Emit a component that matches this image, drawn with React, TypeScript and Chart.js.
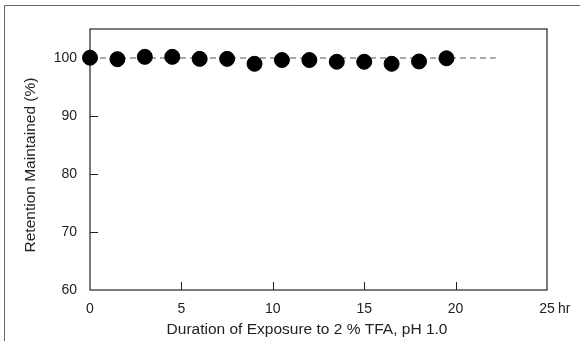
import React, { useEffect, useRef } from "react";
import { Chart, registerables } from "chart.js";

Chart.register(...registerables);

const hours = [0, 1.5, 3, 4.5, 6, 7.5, 9, 10.5, 12, 13.5, 15, 16.5, 18, 19.5];
const retention = [100.05, 99.8, 100.2, 100.2, 99.85, 99.85, 99.0, 99.65, 99.65, 99.35, 99.35, 99.0, 99.4, 99.95];
const refLineX = [0, 22.2];
const refLineY = [100, 100];
const xTicks = [0, 5, 10, 15, 20, 25];
const yTicks = [60, 70, 80, 90, 100];
const xTitle = "Duration of Exposure to 2 % TFA, pH 1.0";
const yTitle = "Retention Maintained (%)";
const xUnit = "hr";

const FONT = "'Liberation Sans', Arial, Helvetica, sans-serif";
const TICK_SIZE = 14;
const TITLE_SIZE = 15.5;

const framePlugin = {
  id: "framePlugin",
  beforeDatasetsDraw(chart: any) {
    const { ctx, chartArea } = chart;
    const xs = chart.scales.x;
    const ys = chart.scales.y;
    ctx.save();
    // outer frame (partial)
    ctx.strokeStyle = "#666";
    ctx.lineWidth = 1;
    ctx.beginPath();
    ctx.moveTo(4.5, 341);
    ctx.lineTo(4.5, 5.5);
    ctx.lineTo(580, 5.5);
    ctx.stroke();
    // plot box
    ctx.strokeStyle = "#222";
    ctx.lineWidth = 1.2;
    ctx.strokeRect(chartArea.left, chartArea.top, chartArea.right - chartArea.left, chartArea.bottom - chartArea.top);
    // inner ticks
    ctx.lineWidth = 1;
    ctx.beginPath();
    yTicks.forEach((v) => {
      if (v === ys.min) return;
      const py = Math.round(ys.getPixelForValue(v)) + 0.5;
      ctx.moveTo(chartArea.left, py);
      ctx.lineTo(chartArea.left + 8, py);
    });
    xTicks.forEach((v) => {
      if (v === xs.min || v === xs.max) return;
      const px = Math.round(xs.getPixelForValue(v)) + 0.5;
      ctx.moveTo(px, chartArea.bottom);
      ctx.lineTo(px, chartArea.bottom - 8);
    });
    ctx.stroke();
    // unit label & axis titles
    ctx.fillStyle = "#222";
    ctx.font = `${TICK_SIZE}px ${FONT}`;
    ctx.textAlign = "left";
    ctx.textBaseline = "middle";
    ctx.fillText(xUnit, xs.getPixelForValue(25) + 11, 309.5);
    ctx.font = `${TITLE_SIZE}px ${FONT}`;
    ctx.textAlign = "center";
    ctx.fillText(xTitle, 307, 330);
    ctx.translate(31, 165);
    ctx.rotate(-Math.PI / 2);
    ctx.fillText(yTitle, 0, 0);
    ctx.restore();
  },
};

export default function App() {
  const ref = useRef<HTMLCanvasElement>(null);
  useEffect(() => {
    if (!ref.current) return;
    const chart = new Chart(ref.current, {
      type: "scatter",
      data: {
        datasets: [
          {
            type: "line",
            data: refLineX.map((x, i) => ({ x, y: refLineY[i] })),
            borderColor: "#555",
            borderWidth: 1.2,
            borderDash: [6, 4],
            pointRadius: 0,
            fill: false,
            order: 2,
          } as any,
          {
            data: hours.map((x, i) => ({ x, y: retention[i] })),
            backgroundColor: "#000",
            borderColor: "#000",
            pointRadius: 7.5,
            pointHoverRadius: 7.5,
            clip: false,
            order: 1,
          },
        ],
      },
      options: {
        responsive: false,
        animation: false,
        events: [],
        layout: { padding: { top: 29, right: 33, bottom: 0, left: 0 } },
        plugins: { legend: { display: false }, tooltip: { enabled: false } },
        scales: {
          x: {
            type: "linear",
            min: 0,
            max: 25,
            grid: { display: false, drawTicks: false },
            border: { display: false },
            afterFit: (s: any) => { s.height = 51; },
            afterBuildTicks: (s: any) => { s.ticks = xTicks.map((v) => ({ value: v })); },
            ticks: { padding: 11, color: "#222", font: { family: FONT, size: TICK_SIZE }, maxRotation: 0, autoSkip: false },
          },
          y: {
            type: "linear",
            min: 60,
            max: 105,
            grid: { display: false, drawTicks: false },
            border: { display: false },
            afterFit: (s: any) => { s.width = 90; },
            afterBuildTicks: (s: any) => { s.ticks = yTicks.map((v) => ({ value: v })); },
            ticks: { padding: 13, color: "#222", font: { family: FONT, size: TICK_SIZE } },
          },
        },
      },
      plugins: [framePlugin],
    });
    return () => chart.destroy();
  }, []);
  return (
    <div style={{ position: "absolute", left: 0, top: 0, width: 580, height: 341, background: "#fff" }}>
      <canvas ref={ref} width={580} height={341} />
    </div>
  );
}
